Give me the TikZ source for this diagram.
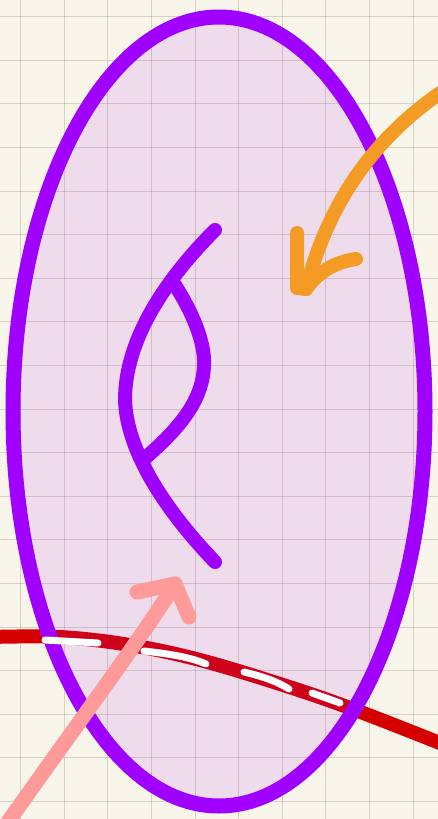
\documentclass[tikz,border=0pt]{standalone}
\begin{document}
\begin{tikzpicture}[x=1pt,y=-1pt,
  gridline/.style={draw=black!60!brown,opacity=0.18,line width=1pt},
  ink/.style={line cap=round,line join=round},
  purp/.style={ink,draw=purpC,line width=14pt},
]
\definecolor{bgC}{HTML}{F8F6EA}
\definecolor{purpC}{HTML}{9F00FF}
\definecolor{orangeC}{HTML}{F49B25}
\definecolor{pinkC}{HTML}{FF9A9A}
\definecolor{redC}{HTML}{D40000}
\useasboundingbox (0,0) rectangle (438,819);
\fill[bgC] (0,0) rectangle (438,819);
% grid
\foreach \i in {0,...,9} {\draw[gridline] (20.7+43.6*\i,0) -- (20.7+43.6*\i,819);}
\foreach \j in {0,...,18} {\draw[gridline] (0,16.7+43.6*\j) -- (438,16.7+43.6*\j);}
% red line
\draw[ink,draw=redC,line width=14pt] plot[smooth,tension=0.6] coordinates {(-10,637) (60,637) (130,645) (200,660) (280,684) (350,708) (445,745)};
% ellipse
\fill[purpC,opacity=0.1] (219,411.5) ellipse [x radius=206,y radius=394.5];
\draw[draw=purpC,line width=15pt] (219,411.5) ellipse [x radius=206,y radius=394.5];
% white dashes
\draw[ink,draw=white,line width=7pt] (45,640) -- (98,643);
\draw[ink,draw=white,line width=7pt] (144,651) .. controls (170,654) and (190,657) .. (206,664);
\draw[ink,draw=white,line width=7pt] (244,672) .. controls (265,677) and (278,682) .. (289,689);
\draw[ink,draw=white,line width=7pt] (312,693) -- (340,703);
% pink arrow
\coordinate (pinkS) at (8,822);
\coordinate (pinkE) at (175,584);
\draw[ink,draw=pinkC,line width=15pt] (pinkS) .. controls (80,720) and (140,640) .. (pinkE);
\draw[ink,draw=pinkC,line width=15pt] (137,592) -- (pinkE) -- (189,617);
% orange arrow
\coordinate (orS) at (440,93);
\coordinate (orE) at (306,289);
\draw[ink,draw=orangeC,line width=14pt] (orS) .. controls (380,135) and (330,195) .. (orE);
\draw[ink,draw=orangeC,line width=14pt] (297,233) -- (297,288) -- (orE);
\draw[ink,draw=orangeC,line width=14pt] (356,259) .. controls (335,262) and (318,272) .. (orE);
% inner purple curves
\coordinate (cTop) at (215,230);
\coordinate (cLeft) at (125,400);
\coordinate (cBot) at (215,562);
\coordinate (cJoin) at (171.7,280);
\coordinate (cRight) at (204,365);
\coordinate (cEnd) at (144,459);
\draw[purp] (cTop) .. controls (165,280) and (125,340) .. (cLeft) .. controls (127,455) and (170,515) .. (cBot);
\draw[purp] (cJoin) .. controls (195,315) and (205,345) .. (cRight) .. controls (203,400) and (180,428) .. (cEnd);
\end{tikzpicture}
\end{document}
